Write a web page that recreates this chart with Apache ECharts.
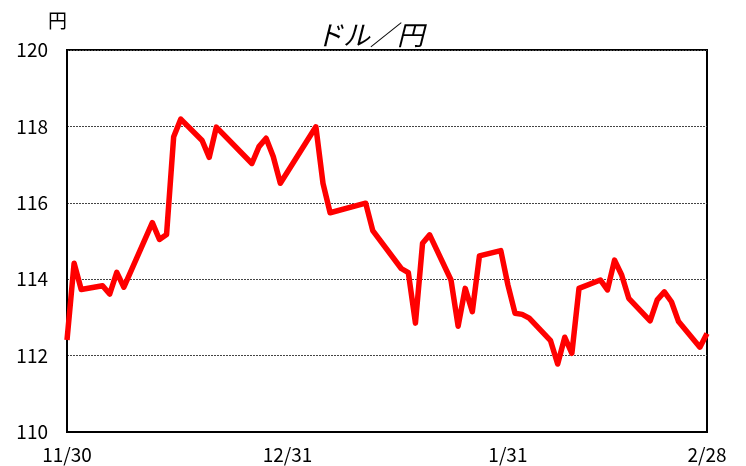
<!DOCTYPE html>
<html>
<head>
<meta charset="utf-8">
<script src="https://cdn.jsdelivr.net/npm/echarts@6/dist/echarts.min.js"></script>
<style>
html,body{margin:0;padding:0;background:#fff;}
#c{width:746px;height:466px;}
</style>
</head>
<body>
<div id="c"></div>
<script>
// days since 11/30 (trading days) and USD/JPY rates
const days = [0,1,2,5,6,7,8,12,13,14,15,16,19,20,21,26,27,28,29,30,35,36,37,42,43,47,48,49,50,51,54,55,56,57,58,61,62,63,64,65,68,69,70,71,72,75,76,77,78,79,82,83,84,85,86,89,90];
const rates = [112.41,114.42,113.73,113.83,113.61,114.18,113.79,115.48,115.04,115.17,117.73,118.19,117.63,117.19,117.98,117.03,117.47,117.69,117.21,116.51,117.99,116.51,115.74,115.99,115.27,114.28,114.17,112.85,114.94,115.16,113.98,112.77,113.76,113.15,114.61,114.75,113.85,113.11,113.08,112.98,112.39,111.78,112.48,112.06,113.76,113.98,113.72,114.50,114.11,113.50,112.91,113.46,113.67,113.41,112.89,112.22,112.58];
const xTickDays = [0,31,62,90];
const xTickLabels = ['11/30','12/31','1/31','2/28'];
const yTicks = [110,112,114,116,118,120];

const font = '"Noto Sans CJK JP", "DejaVu Sans", sans-serif';
const chart = echarts.init(document.getElementById('c'), null, {renderer:'canvas'});
chart.setOption({
  animation:false,
  backgroundColor:'#fff',
  title:{
    text:'ドル／円',
    left:365, top:16, textAlign:'center',
    textStyle:{fontFamily:font, fontSize:27, fontStyle:'italic', fontWeight:'normal', color:'#000'}
  },
  grid:{left:67, right:39, top:50, bottom:34, show:true, borderColor:'#000', borderWidth:2, backgroundColor:'transparent'},
  xAxis:{
    type:'value', min:0, max:90,
    axisLine:{show:true, lineStyle:{color:'#000', width:2}},
    axisTick:{show:false},
    splitLine:{show:false},
    axisLabel:{
      customValues: xTickDays,
      formatter:function(v){ const i = xTickDays.indexOf(v); return i>=0 ? xTickLabels[i] : ''; },
      fontFamily:font, fontSize:19, color:'#000', margin:13
    }
  },
  yAxis:{
    type:'value', min:yTicks[0], max:yTicks[yTicks.length-1], interval:2,
    name:'円', nameLocation:'end', nameGap:20,
    nameTextStyle:{fontFamily:font, fontSize:19, color:'#000', align:'right', padding:[0,0,0,0]},
    axisLine:{show:true, lineStyle:{color:'#000', width:2}},
    axisTick:{show:false},
    splitLine:{show:true, lineStyle:{color:'#444', width:1, type:[2,1]}},
    axisLabel:{fontFamily:font, fontSize:19, color:'#000', margin:19}
  },
  series:[{
    type:'line',
    data: days.map((d,i)=>[d, rates[i]]),
    showSymbol:false,
    symbol:'none',
    lineStyle:{color:'#ff0000', width:5.5, join:'round'},
    itemStyle:{color:'#ff0000'},
    z:5
  }]
});
</script>
</body>
</html>
